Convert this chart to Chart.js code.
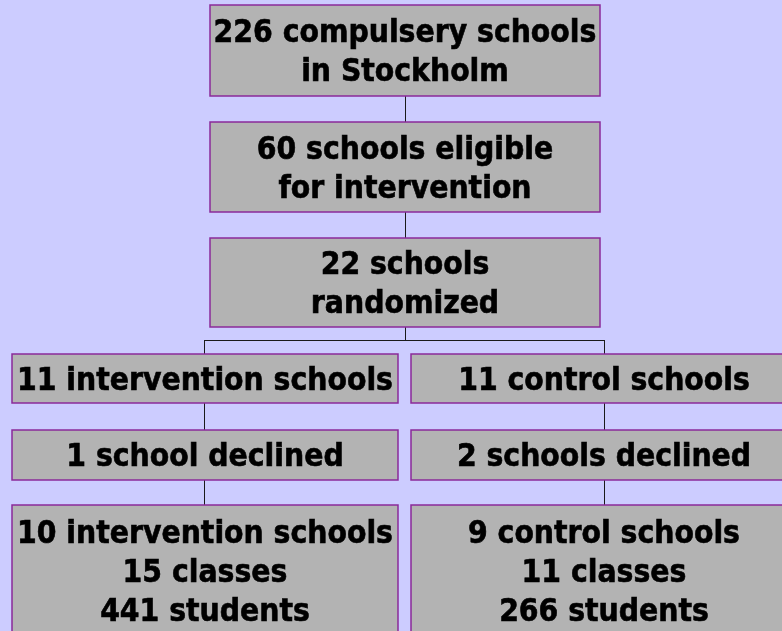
<!DOCTYPE html>
<html>
<head>
<meta charset="utf-8">
<script src="https://cdn.jsdelivr.net/npm/chart.js@4.4.1/dist/chart.umd.min.js"></script>
<style>
  html, body { margin: 0; padding: 0; background: #ccccff; overflow: hidden; }
  #wrap { width: 782px; height: 631px; }
</style>
</head>
<body>
<div id="wrap"><canvas id="flow"></canvas></div>
<script>
// --- flowchart content ---
const trunkSteps = [
    '226 compulsery schools\nin Stockholm',
    '60 schools eligible\nfor intervention',
    '22 schools\nrandomized'
];
const interventionArm = [
    '11 intervention schools',
    '1 school declined',
    '10 intervention schools\n15 classes\n441 students'
];
const controlArm = [
    '11 control schools',
    '2 schools declined',
    '9 control schools\n11 classes\n266 students'
];

// layout in axis units (axes span the canvas 0..782 x 0..631)
const trunkRows = [[5, 96], [122, 212], [238, 327]];
const armRows = [[354, 403], [430, 480], [505, 636]];
const trunkSpan = [210, 600];
const leftSpan = [12, 398];
const rightSpan = [411, 797];
const splitY = 340;

const FONT = 'bold 31.5px "DejaVu Sans Condensed", "DejaVu Sans", Tahoma, sans-serif';
const LINE_H = 39;

function drawBox(ctx, xs, ys, span, row, text) {
    const x0 = xs.getPixelForValue(span[0]), x1 = xs.getPixelForValue(span[1]);
    const y0 = ys.getPixelForValue(row[0]), y1 = ys.getPixelForValue(row[1]);
    ctx.fillStyle = '#b3b3b3';
    ctx.fillRect(x0, y0, x1 - x0, y1 - y0);
    ctx.strokeStyle = '#8a2a9a';
    ctx.lineWidth = 1.5;
    ctx.strokeRect(x0, y0, x1 - x0, y1 - y0);

    const lines = text.split('\n');
    const cx = (x0 + x1) / 2;
    const cy = (y0 + y1) / 2;
    ctx.fillStyle = '#000';
    ctx.strokeStyle = '#000';
    ctx.lineWidth = 0.6;
    ctx.font = FONT;
    ctx.textAlign = 'center';
    ctx.textBaseline = 'middle';
    const startY = cy - (lines.length - 1) * LINE_H / 2;
    lines.forEach((l, i) => {
        ctx.fillText(l, cx, startY + i * LINE_H + 3);
        ctx.strokeText(l, cx, startY + i * LINE_H + 3);
    });
}

function vline(ctx, xs, ys, x, ya, yb) {
    const px = Math.round(xs.getPixelForValue(x)) + 0.5;
    ctx.beginPath();
    ctx.moveTo(px, ys.getPixelForValue(ya));
    ctx.lineTo(px, ys.getPixelForValue(yb));
    ctx.stroke();
}

const flowPlugin = {
    id: 'flow',
    afterDraw(chart) {
        const ctx = chart.ctx;
        const xs = chart.scales.x, ys = chart.scales.y;
        ctx.save();
        // connectors
        ctx.strokeStyle = '#1a1a1a';
        ctx.lineWidth = 1;
        const midX = (trunkSpan[0] + trunkSpan[1]) / 2 - 0.5;
        const leftX = (leftSpan[0] + leftSpan[1]) / 2 - 0.5;
        const rightX = (rightSpan[0] + rightSpan[1]) / 2 - 0.5;
        for (let i = 0; i < trunkRows.length - 1; i++) {
            vline(ctx, xs, ys, midX, trunkRows[i][1], trunkRows[i + 1][0]);
        }
        vline(ctx, xs, ys, midX, trunkRows[2][1], splitY);
        const hy = Math.round(ys.getPixelForValue(splitY)) + 0.5;
        ctx.beginPath();
        ctx.moveTo(Math.round(xs.getPixelForValue(leftX)), hy);
        ctx.lineTo(Math.round(xs.getPixelForValue(rightX)) + 1, hy);
        ctx.stroke();
        vline(ctx, xs, ys, leftX, splitY, armRows[0][0]);
        vline(ctx, xs, ys, rightX, splitY, armRows[0][0]);
        for (let i = 0; i < armRows.length - 1; i++) {
            vline(ctx, xs, ys, leftX, armRows[i][1], armRows[i + 1][0]);
            vline(ctx, xs, ys, rightX, armRows[i][1], armRows[i + 1][0]);
        }
        // boxes
        trunkSteps.forEach((t, i) => drawBox(ctx, xs, ys, trunkSpan, trunkRows[i], t));
        interventionArm.forEach((t, i) => drawBox(ctx, xs, ys, leftSpan, armRows[i], t));
        controlArm.forEach((t, i) => drawBox(ctx, xs, ys, rightSpan, armRows[i], t));
        ctx.restore();
    }
};

new Chart(document.getElementById('flow'), {
    type: 'scatter',
    data: { datasets: [{ data: [], pointRadius: 0 }] },
    options: {
        responsive: true,
        maintainAspectRatio: false,
        animation: false,
        layout: { padding: 0 },
        plugins: { legend: { display: false }, tooltip: { enabled: false } },
        scales: {
            x: { type: 'linear', min: 0, max: 782, display: false },
            y: { type: 'linear', min: 0, max: 631, reverse: true, display: false }
        }
    },
    plugins: [flowPlugin]
});
</script>
</body>
</html>
